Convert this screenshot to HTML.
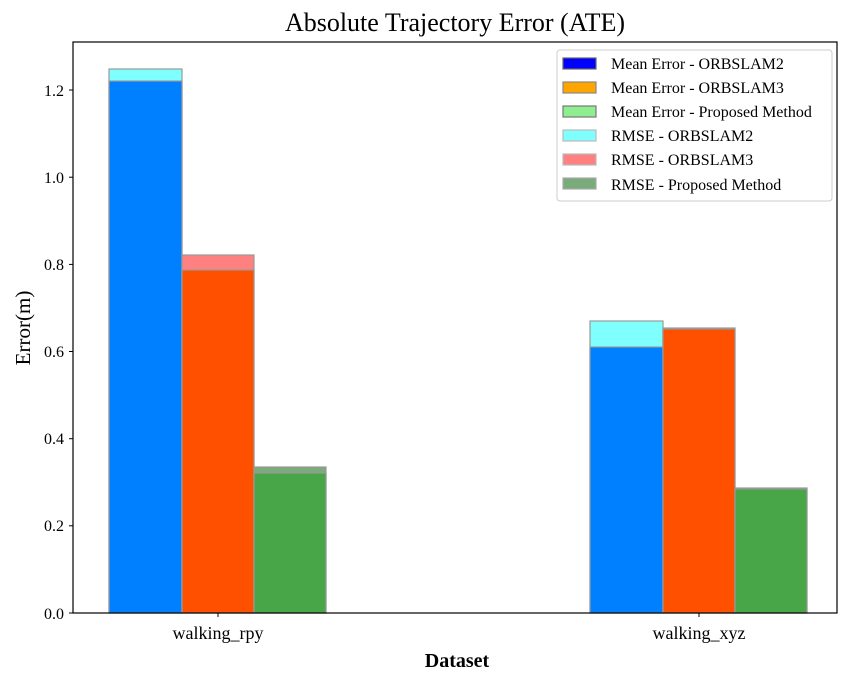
<!DOCTYPE html>
<html><head><meta charset="utf-8"><style>
html,body{margin:0;padding:0;background:#fff;}
svg text{font-family:"Liberation Serif",serif;fill:#000;}
</style></head><body>
<svg width="854" height="684" viewBox="0 0 854 684" xmlns="http://www.w3.org/2000/svg">
<rect width="854" height="684" fill="#fff"/>
<text x="455" y="31" font-size="26" text-anchor="middle">Absolute Trajectory Error (ATE)</text>
<g stroke="#999" stroke-width="1.2">
<rect x="109" y="69" width="73" height="544" fill="#80ffff"/>
<rect x="109" y="81" width="73" height="532" fill="#0080ff"/>
<rect x="182" y="255" width="72" height="358" fill="#ff8080"/>
<rect x="182" y="270" width="72" height="343" fill="#ff5000"/>
<rect x="254" y="467" width="72" height="146" fill="#7aab7a"/>
<rect x="254" y="473" width="72" height="140" fill="#48a548"/>
<rect x="590" y="321" width="73" height="292" fill="#80ffff"/>
<rect x="590" y="347" width="73" height="266" fill="#0080ff"/>
<rect x="663" y="328" width="72" height="285" fill="#ff8080"/>
<rect x="663" y="329" width="72" height="284" fill="#ff5000"/>
<rect x="735" y="488" width="72" height="125" fill="#7aab7a"/>
<rect x="735" y="489" width="72" height="124" fill="#48a548"/>
</g>
<rect x="73" y="42" width="764" height="571" fill="none" stroke="#000" stroke-width="1.2"/>
<g stroke="#000" stroke-width="1">
<line x1="73" y1="613" x2="69" y2="613"/><line x1="73" y1="525.8" x2="69" y2="525.8"/>
<line x1="73" y1="438.7" x2="69" y2="438.7"/><line x1="73" y1="351.5" x2="69" y2="351.5"/>
<line x1="73" y1="264.4" x2="69" y2="264.4"/><line x1="73" y1="177.2" x2="69" y2="177.2"/>
<line x1="73" y1="90" x2="69" y2="90"/>
<line x1="218" y1="613" x2="218" y2="617"/><line x1="699" y1="613" x2="699" y2="617"/>
</g>
<g font-size="16" text-anchor="end">
<text x="64" y="619">0.0</text><text x="64" y="531">0.2</text><text x="64" y="444">0.4</text>
<text x="64" y="357">0.6</text><text x="64" y="270">0.8</text><text x="64" y="183">1.0</text>
<text x="64" y="96">1.2</text>
</g>
<g font-size="18" text-anchor="middle">
<text x="218" y="639">walking_rpy</text><text x="699" y="639">walking_xyz</text>
</g>
<text x="457" y="667" font-size="20" font-weight="bold" text-anchor="middle">Dataset</text>
<text transform="translate(30,328) rotate(-90)" font-size="21" text-anchor="middle">Error(m)</text>
<rect x="557" y="50" width="275" height="151" rx="3" fill="#fff" stroke="#ccc" stroke-width="1"/>
<g stroke-width="1.2">
<rect x="563" y="58" width="33" height="11" fill="#0000ff" stroke="#666"/>
<rect x="563" y="82" width="33" height="11" fill="#ffa500" stroke="#888"/>
<rect x="563" y="106" width="33" height="11" fill="#90ee90" stroke="#777"/>
<rect x="563" y="130" width="33" height="11" fill="#80ffff" stroke="#bbb"/>
<rect x="563" y="154" width="33" height="11" fill="#ff8080" stroke="#bbb"/>
<rect x="563" y="178" width="33" height="11" fill="#7aab7a" stroke="#aaa"/>
</g>
<g font-size="16">
<text x="611" y="69">Mean Error - ORBSLAM2</text>
<text x="611" y="93">Mean Error - ORBSLAM3</text>
<text x="611" y="117">Mean Error - Proposed Method</text>
<text x="611" y="141">RMSE - ORBSLAM2</text>
<text x="611" y="165">RMSE - ORBSLAM3</text>
<text x="611" y="190">RMSE - Proposed Method</text>
</g>
</svg>
</body></html>
